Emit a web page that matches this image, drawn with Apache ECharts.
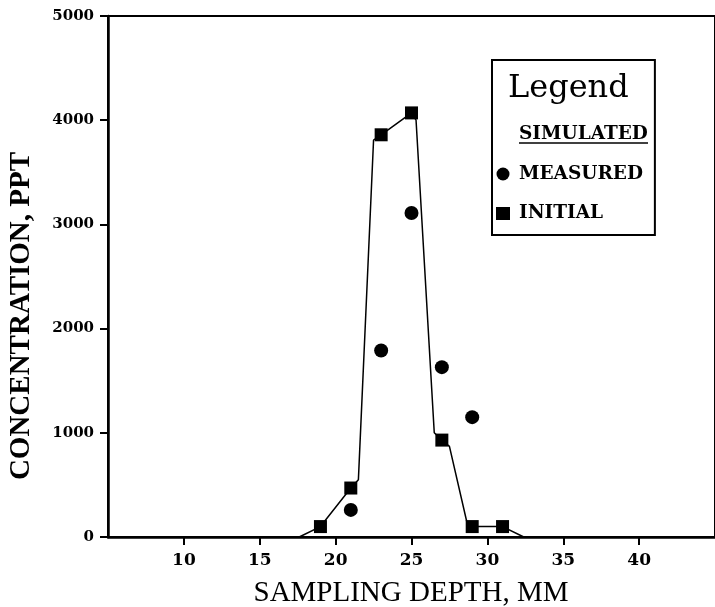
<!DOCTYPE html>
<html>
<head>
<meta charset="utf-8">
<script src="https://cdn.jsdelivr.net/npm/echarts@6/dist/echarts.min.js"></script>
<style>
html,body{margin:0;padding:0;background:#fff;}
#chart{width:715px;height:607px;}
</style>
</head>
<body>
<div id="chart"></div>
<script>
// ---- data ----
const simDepth = [17.6, 19, 21, 21.5, 22.5, 23, 25, 25.3, 26.5, 27, 27.5, 28.7, 29, 31, 32.4];
const simConc  = [0, 100, 470, 550, 3810, 3860, 4070, 4000, 1000, 930, 870, 110, 100, 100, 0];
const measDepth = [21, 23, 25, 27, 29];
const measConc  = [260, 1790, 3110, 1630, 1150];
const initDepth = [19, 21, 23, 25, 27, 29, 31];
const initConc  = [100, 470, 3860, 4070, 930, 100, 100];
const seriesNames = ['SIMULATED', 'MEASURED', 'INITIAL'];
const xTitle = 'SAMPLING DEPTH, MM';
const yTitle = 'CONCENTRATION, PPT';
const legendTitle = 'Legend';

const zip = (a, b) => a.map((v, i) => [v, b[i]]);

const legendFont = {color: '#000', fontFamily: 'DejaVu Serif', fontWeight: 'bold', fontSize: 18.5};

const chart = echarts.init(document.getElementById('chart'), null, {renderer: 'canvas'});
const option = {
  animation: false,
  backgroundColor: '#ffffff',
  grid: {
    left: 108, top: 16, right: -6, bottom: 70,
    show: true, borderColor: '#000', borderWidth: 2, backgroundColor: 'transparent'
  },
  xAxis: {
    type: 'value', min: 5, max: 45, interval: 5,
    axisLine: {show: true, lineStyle: {color: '#000', width: 2.5}},
    axisTick: {show: true, length: 8, lineStyle: {color: '#000', width: 2}},
    axisLabel: {
      showMinLabel: false, showMaxLabel: false, margin: 15,
      color: '#000', fontFamily: 'DejaVu Serif', fontWeight: 'bold', fontSize: 17
    },
    splitLine: {show: false}
  },
  yAxis: {
    type: 'value', min: 0, max: 5000, interval: 1000,
    axisLine: {show: true, lineStyle: {color: '#000', width: 2.5}},
    axisTick: {show: true, length: 8, lineStyle: {color: '#000', width: 2}},
    axisLabel: {
      margin: 14, color: '#000', fontFamily: 'DejaVu Serif', fontWeight: 'bold', fontSize: 15,
      formatter: (v) => String(v)
    },
    splitLine: {show: false}
  },
  legend: {
    orient: 'vertical',
    left: 492, top: 60,
    padding: [65, 7, 12, 4],
    itemGap: 20.5,
    itemWidth: 14, itemHeight: 13,
    borderColor: '#000', borderWidth: 2,
    backgroundColor: '#fff',
    selectedMode: false,
    formatter: (name) => '{a|' + name + '}',
    textStyle: Object.assign({}, legendFont, {
      rich: {a: Object.assign({}, legendFont, {padding: [0, 0, 0, 4]})}
    }),
    data: [
      {name: seriesNames[0], icon: 'none'},
      {name: seriesNames[1], icon: 'circle'},
      {name: seriesNames[2], icon: 'rect'}
    ]
  },
  graphic: [
    {
      type: 'text', left: 508, top: 73, z: 100,
      style: {text: legendTitle, fill: '#000', font: '32px "DejaVu Serif"'}
    },
    {
      type: 'line', z: 100,
      shape: {x1: 519, y1: 143, x2: 648, y2: 143},
      style: {stroke: '#000', lineWidth: 1.5}
    },
    {
      type: 'text', x: 411, y: 593, z: 100,
      style: {text: xTitle, fill: '#000', font: '29px "Liberation Serif"', textAlign: 'center', textVerticalAlign: 'middle'}
    },
    {
      type: 'text', x: 22, y: 316, rotation: Math.PI / 2, z: 100,
      style: {text: yTitle, fill: '#000', font: 'bold 29px "Liberation Serif"', textAlign: 'center', textVerticalAlign: 'middle'}
    }
  ],
  series: [
    {
      name: seriesNames[0], type: 'line', data: zip(simDepth, simConc),
      showSymbol: false, symbol: 'none',
      lineStyle: {color: '#000', width: 1.5},
      itemStyle: {color: '#000'}, z: 2
    },
    {
      name: seriesNames[1], type: 'scatter', data: zip(measDepth, measConc),
      symbol: 'circle', symbolSize: 14,
      itemStyle: {color: '#000', opacity: 1}, z: 3
    },
    {
      name: seriesNames[2], type: 'scatter', data: zip(initDepth, initConc),
      symbol: 'rect', symbolSize: 13,
      itemStyle: {color: '#000', opacity: 1}, z: 3
    }
  ]
};
chart.setOption(option);
</script>
</body>
</html>
